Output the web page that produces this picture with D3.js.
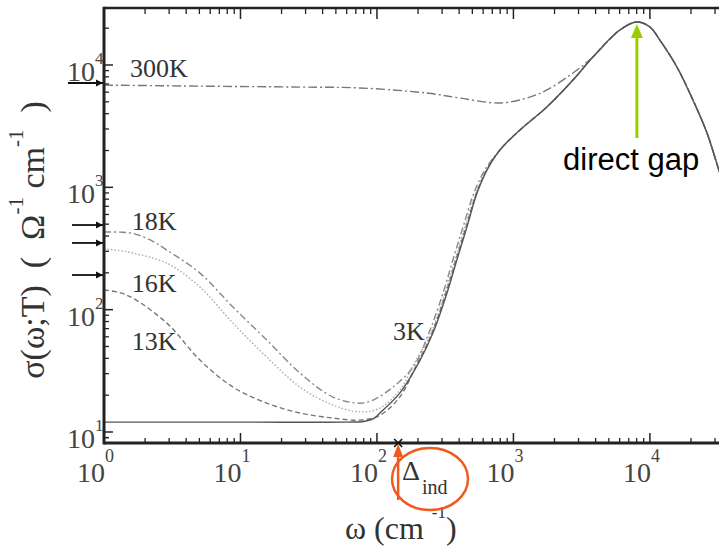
<!DOCTYPE html>
<html>
<head>
<meta charset="utf-8">
<script src="https://cdn.jsdelivr.net/npm/d3@7"></script>
<style>
  html, body { margin: 0; padding: 0; background: #fff; }
  svg { display: block; }
</style>
</head>
<body>
<svg id="chart" width="719" height="550"></svg>
<script>
// Optical conductivity sigma(omega; T) vs frequency, log-log.
// Each series: [omega (cm^-1), sigma (Ohm^-1 cm^-1)]
const highCommon = [
  [3820, 11620], [6025, 19320], [8030, 22480], [10000, 20470], [11830, 16000],
  [15770, 9630], [20660, 5180], [26200, 2780], [31500, 1466], [35500, 968]
];
const riseCommon = [
  [796, 2018], [1116, 2943], [1758, 4540], [2730, 7530]
];
const series3K = [
  [1, 12.05], [10, 12.05], [60, 12.05], [80, 12.2], [95, 12.9], [105, 14.3],
  [147, 20.8], [207, 38.7], [257, 64.4], [326, 137], [385, 255], [456, 473],
  [541, 897], [640, 1384]
];
const series13K = [
  [1, 145], [1.3, 138], [1.63, 124], [2.89, 77.6], [5.05, 38.7], [8.81, 23.3], [15.6, 17.2],
  [27.3, 14.3], [47.6, 13.0], [75, 12.5], [105, 13.7], [147, 19.3], [190, 33.3],
  [253, 64.4], [320, 137], [379, 255], [449, 473], [536, 897], [636, 1384]
];
const series16K = [
  [1, 313], [1.3, 304], [1.63, 290], [2.89, 240], [5.05, 153], [8.81, 77.6], [15.6, 40.9],
  [27.3, 23.3], [47.6, 16.6], [75, 14.6], [105, 15.7], [147, 22.0], [190, 37.3],
  [249, 64.4], [315, 137], [373, 255], [441, 473], [531, 897], [631, 1384]
];
const series18K = [
  [1, 432], [1.3, 430], [1.63, 420], [2.2, 370], [2.89, 307], [5.05, 199], [8.81, 105], [15.6, 56.4],
  [27.3, 30.3], [47.6, 19.3], [75, 17.2], [93.5, 18.2], [131, 23.3], [184, 34.0],
  [240, 64.4], [305, 137], [360, 255], [427, 473], [513, 897], [617, 1384]
];
const series300K = [
  [1, 6850], [5, 6720], [27, 6600], [75, 6490], [232, 5900], [405, 5370],
  [796, 4890], [1256, 5370], [1758, 6250], [2730, 8600]
];
const seriesNames = ["300K", "18K", "16K", "13K", "3K"];
const dcValues = [7130, 492, 351, 192];        // dc conductivity arrows
const indirectGap = 143;                        // Delta_ind (cm^-1)
const directGap = 8030;                         // direct gap peak (cm^-1)
const xTickExps = [0, 1, 2, 3, 4];
const yTickExps = [1, 2, 3, 4];

const curves = [
  { name: "300K", pts: series300K.concat(highCommon), dash: "9,3,2,3", color: "#777", w: 1.4 },
  { name: "18K", pts: series18K.concat(riseCommon, highCommon), dash: "7,3,2,3", color: "#888", w: 1.4 },
  { name: "16K", pts: series16K.concat(riseCommon, highCommon), dash: "1.5,2", color: "#aaa", w: 1.4 },
  { name: "13K", pts: series13K.concat(riseCommon, highCommon), dash: "5,3", color: "#777", w: 1.4 },
  { name: "3K", pts: series3K.concat(riseCommon, highCommon), dash: null, color: "#555", w: 1.4 }
];

const svg = d3.select("#chart");
const L = 104, R = 725, T = 8, B = 443;
const x = d3.scaleLog().domain([1, 35500]).range([L, R]);
const y = d3.scaleLog().domain([8.13, 29240]).range([B, T]);

svg.append("defs").append("clipPath").attr("id", "plotclip")
  .append("rect").attr("x", L).attr("y", T).attr("width", 719 - L).attr("height", B - T);

const line = d3.line().x(d => x(d[0])).y(d => y(d[1])).curve(d3.curveCatmullRom.alpha(0.5));

const g = svg.append("g").attr("clip-path", "url(#plotclip)");
curves.forEach(c => {
  g.append("path")
    .attr("d", line(c.pts))
    .attr("fill", "none")
    .attr("stroke", c.color)
    .attr("stroke-width", c.w)
    .attr("stroke-dasharray", c.dash);
});

// axes: inward ticks on left, bottom and top
const axisColor = "#222";
const xMinor = [], yMinor = [];
for (let e = 0; e <= 4; e++) for (let m = 2; m <= 9; m++) {
  const v = m * Math.pow(10, e);
  if (v <= 35500) xMinor.push(v);
}
for (let e = 0; e <= 4; e++) for (let m = 2; m <= 9; m++) {
  const v = m * Math.pow(10, e);
  if (v >= 8.13 && v <= 29240) yMinor.push(v);
}
yMinor.push(9);

const ax = svg.append("g");
xTickExps.forEach(e => {
  const px = x(Math.pow(10, e));
  ax.append("line").attr("x1", px).attr("x2", px).attr("y1", B).attr("y2", B - 10)
    .attr("stroke", axisColor).attr("stroke-width", 1.5);
  ax.append("line").attr("x1", px).attr("x2", px).attr("y1", T).attr("y2", T + 11)
    .attr("stroke", axisColor).attr("stroke-width", 1.5);
});
xMinor.forEach(v => {
  const px = x(v);
  ax.append("line").attr("x1", px).attr("x2", px).attr("y1", B).attr("y2", B - 5)
    .attr("stroke", axisColor).attr("stroke-width", 1.3);
  ax.append("line").attr("x1", px).attr("x2", px).attr("y1", T).attr("y2", T + 6)
    .attr("stroke", axisColor).attr("stroke-width", 1.3);
});
yTickExps.forEach(e => {
  const py = y(Math.pow(10, e));
  ax.append("line").attr("x1", L).attr("x2", L + 9).attr("y1", py).attr("y2", py)
    .attr("stroke", axisColor).attr("stroke-width", 1.5);
});
yMinor.forEach(v => {
  const py = y(v);
  ax.append("line").attr("x1", L).attr("x2", L + 5).attr("y1", py).attr("y2", py)
    .attr("stroke", axisColor).attr("stroke-width", 1.3);
});
ax.append("line").attr("x1", L).attr("x2", 719).attr("y1", B).attr("y2", B)
  .attr("stroke", axisColor).attr("stroke-width", 3);
ax.append("line").attr("x1", L).attr("x2", 719).attr("y1", T).attr("y2", T)
  .attr("stroke", axisColor).attr("stroke-width", 2.5);
ax.append("line").attr("x1", L).attr("x2", L).attr("y1", T - 1.2).attr("y2", B + 1.5)
  .attr("stroke", axisColor).attr("stroke-width", 3);

// tick labels
const serif = "'Liberation Serif', 'Times New Roman', serif";
const labelColor = "#444";
xTickExps.forEach(e => {
  const px = x(Math.pow(10, e));
  svg.append("text").attr("font-family", serif).attr("fill", labelColor)
    .attr("font-size", 28).attr("text-anchor", "end")
    .attr("x", px + 1).attr("y", 482).text("10");
  svg.append("text").attr("font-family", serif).attr("fill", labelColor)
    .attr("font-size", 18).attr("x", px + 1).attr("y", 462).text(e);
});
yTickExps.forEach(e => {
  const py = y(Math.pow(10, e));
  svg.append("text").attr("font-family", serif).attr("fill", labelColor)
    .attr("font-size", 28).attr("text-anchor", "end")
    .attr("x", 95).attr("y", py + 16).text("10");
  svg.append("text").attr("font-family", serif).attr("fill", labelColor)
    .attr("font-size", 17).attr("x", 95).attr("y", py - 1).text(e);
});

// axis titles
const xt = svg.append("text").attr("font-family", serif).attr("fill", "#333")
  .attr("font-size", 32).attr("x", 345).attr("y", 539);
xt.append("tspan").text("\u03c9 (cm");
xt.append("tspan").attr("font-size", 17).attr("dx", 8).attr("dy", -21).text("-1");
xt.append("tspan").attr("dy", 21).text(")");

const yt = svg.append("text").attr("font-family", serif).attr("fill", "#333")
  .attr("font-size", 34).attr("text-anchor", "middle")
  .attr("transform", "translate(44,240) rotate(-90)").attr("x", 0).attr("y", 0)
  .attr("xml:space", "preserve");
yt.append("tspan").text("\u03c3(\u03c9;T)  (  \u03a9");
yt.append("tspan").attr("font-size", 21).attr("dy", -21).text("-1");
yt.append("tspan").attr("dy", 21).text(" cm");
yt.append("tspan").attr("font-size", 21).attr("dy", -21).text("-1");
yt.append("tspan").attr("dy", 21).text("  )");

// curve labels
const labelPos = { "300K": [1.55, 77], "18K": [1.6, 230], "16K": [1.6, 292], "13K": [1.6, 350], "3K": [131, 340] };
seriesNames.forEach(n => {
  svg.append("text").attr("font-family", serif).attr("fill", "#333").attr("font-size", 26)
    .attr("x", x(labelPos[n][0])).attr("y", labelPos[n][1]).text(n);
});

// dc conductivity arrows on the left axis
const defs = svg.select("defs");
defs.append("marker").attr("id", "blackHead").attr("viewBox", "0 0 10 10")
  .attr("refX", 10).attr("refY", 5).attr("markerWidth", 4).attr("markerHeight", 4)
  .attr("orient", "auto").attr("markerUnits", "strokeWidth")
  .append("path").attr("d", "M0,0 L10,5 L0,10 z").attr("fill", "#111");
dcValues.forEach((v, i) => {
  svg.append("line").attr("x1", i === 0 ? 68 : 72).attr("x2", L - 1)
    .attr("y1", y(v)).attr("y2", y(v))
    .attr("stroke", "#111").attr("stroke-width", 1.8).attr("marker-end", "url(#blackHead)");
});

// direct gap annotation
const gx = x(directGap);
svg.append("line").attr("x1", gx).attr("x2", gx).attr("y1", 138).attr("y2", 36)
  .attr("stroke", "#9acd00").attr("stroke-width", 3);
svg.append("path").attr("d", `M${gx - 6},38 L${gx},24 L${gx + 6},38 Z`).attr("fill", "#9acd00");
svg.append("text").attr("font-family", "'Liberation Sans', Arial, sans-serif")
  .attr("font-size", 31).attr("fill", "#000").attr("x", 563).attr("y", 170).text("direct gap");

// indirect gap annotation
const ix = x(indirectGap);
svg.append("path").attr("d", `M${ix - 4},${B - 4} L${ix + 4},${B + 4} M${ix - 4},${B + 4} L${ix + 4},${B - 4}`)
  .attr("stroke", "#111").attr("stroke-width", 1.6);
svg.append("line").attr("x1", ix).attr("x2", ix).attr("y1", 500).attr("y2", 455)
  .attr("stroke", "#f05a1e").attr("stroke-width", 2.5);
svg.append("path").attr("d", `M${ix - 5},457 L${ix},444 L${ix + 5},457 Z`).attr("fill", "#f05a1e");
svg.append("ellipse").attr("cx", 430).attr("cy", 479).attr("rx", 38).attr("ry", 31)
  .attr("fill", "none").attr("stroke", "#f05a1e").attr("stroke-width", 2.5);
const dt = svg.append("text").attr("font-family", serif).attr("fill", "#333")
  .attr("font-size", 28).attr("x", 402).attr("y", 480);
dt.append("tspan").text("\u0394");
dt.append("tspan").attr("font-size", 20).attr("dx", 2).attr("dy", 14).text("ind");
</script>
</body>
</html>
